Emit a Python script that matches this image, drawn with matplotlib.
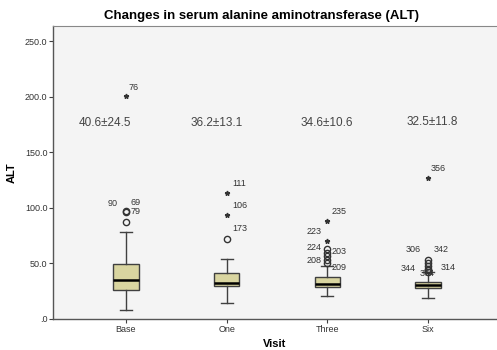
import numpy as np
import matplotlib.pyplot as plt

plt.rcParams['font.family'] = ['Liberation Sans', 'DejaVu Sans']

visits = ['Base', 'One', 'Three', 'Six']
whislo = [8.0, 14.6, 20.5, 18.5]
q1 = [25.7, 29.5, 28.6, 27.7]
med = [34.7, 32.6, 31.7, 30.8]
q3 = [49.4, 41.6, 37.4, 33.5]
whishi = [78.0, 53.6, 47.3, 41.9]
mean_sd = ['40.6±24.5', '36.2±13.1', '34.6±10.6', '32.5±11.8']

# outliers: (visit index, value, label, label offset in points)
circles = [
    (0, 97.0, '90', (-13, 4)), (0, 96.0, '69', (3, 5)), (0, 87.0, '79', (3, 6)),
    (1, 71.6, '173', (4, 6)),
    (2, 63.2, '224', (-15, -1)), (2, 59.5, '203', (3, -1)), (2, 56.3, '', (0, 0)),
    (2, 53.2, '208', (-15, -2)), (2, 50.5, '209', (3, -5)),
    (3, 52.7, '306', (-16, 6)), (3, 50.3, '342', (4, 8)), (3, 47.8, '', (0, 0)),
    (3, 45.3, '344', (-20, -2)), (3, 44.0, '314', (9, 0)), (3, 42.5, '374', (-6, -3)),
]
stars = [
    (0, 200.5, '76', (2, 4)),
    (1, 93.9, '106', (4, 5)), (1, 113.7, '111', (4, 5)),
    (2, 69.8, '223', (-15, 5)), (2, 88.5, '235', (3, 5)),
    (3, 126.8, '356', (2, 5)),
]

fig = plt.figure(figsize=(4.97, 3.5), dpi=100)
ax = fig.add_axes([0.1066, 0.0886, 0.8934, 0.8371])
ax.set_facecolor('#f4f4f4')

pos = np.arange(1, len(visits) + 1)
stats = []
for i in range(len(visits)):
    stats.append({'whislo': whislo[i], 'q1': q1[i], 'med': med[i],
                  'q3': q3[i], 'whishi': whishi[i], 'fliers': []})
ax.bxp(stats, positions=pos, widths=0.25, patch_artist=True, showfliers=False,
       boxprops=dict(facecolor='#d9d5a0', edgecolor='#404040', linewidth=1.0),
       medianprops=dict(color='black', linewidth=1.8),
       whiskerprops=dict(color='#404040', linewidth=1.0),
       capprops=dict(color='#404040', linewidth=1.0),
       capwidths=0.12)

for i, v, lab, off in circles:
    ax.plot(pos[i], v, 'o', ms=4.5, mfc='none', mec='#333333', mew=1.0)
    if lab:
        ax.annotate(lab, (pos[i], v), xytext=off, textcoords='offset points',
                    fontsize=6.5, color='#333333')
for i, v, lab, off in stars:
    ax.plot(pos[i], v, '*', ms=3.5, color='#333333')
    ax.annotate(lab, (pos[i], v), xytext=off, textcoords='offset points',
                fontsize=6.5, color='#333333')

text_x = [0.79, 1.90, 2.99, 4.04]
text_y = [176, 176, 176, 177.5]
for i in range(len(visits)):
    ax.text(text_x[i], text_y[i], mean_sd[i], ha='center', va='center',
            fontsize=8.5, color='#444444')

ax.set_xlim(0.275, 4.685)
ax.set_ylim(0, 263.5)
ax.set_xticks(pos)
ax.set_xticklabels(visits, fontsize=6.5, color='#333333')
yt = [0, 50, 100, 150, 200, 250]
ax.set_yticks(yt)
ax.set_yticklabels(['.0', '50.0', '100.0', '150.0', '200.0', '250.0'],
                   fontsize=6.5, color='#333333')
ax.tick_params(length=3, color='#404040', pad=1)

for s in ['left', 'bottom']:
    ax.spines[s].set_color('#555555')
    ax.spines[s].set_linewidth(1.0)
ax.spines['top'].set_color('#888888')
ax.spines['right'].set_visible(False)

ax.set_title('Changes in serum alanine aminotransferase (ALT)', fontsize=9.5,
             fontweight='bold', pad=5, x=0.47)
ax.set_ylabel('ALT', fontsize=8, fontweight='bold', labelpad=6)
ax.set_xlabel('Visit', fontsize=8, fontweight='bold', labelpad=4)

fig.savefig('out.png', dpi=100)
